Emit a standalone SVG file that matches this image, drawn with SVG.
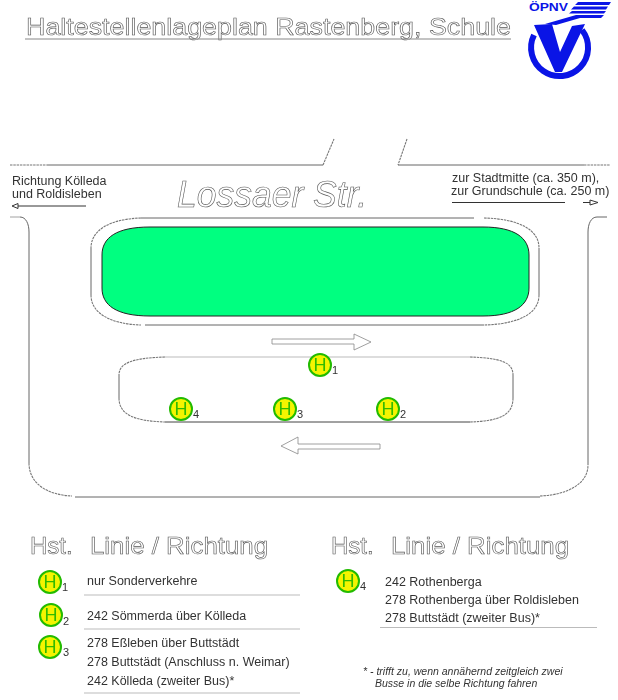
<svg xmlns="http://www.w3.org/2000/svg" width="618" height="700" viewBox="0 0 618 700">
<defs><filter id="soft" x="-5%" y="-20%" width="110%" height="140%"><feGaussianBlur stdDeviation="0.25"/></filter></defs>
<style>
text{font-family:"Liberation Sans",Arial,sans-serif}
.g{filter:url(#soft)}
.o{fill:#fff;stroke:#555;stroke-width:.6}
.t{fill:#333;font-size:12.5px}
.r{fill:none;stroke:#666;stroke-width:1}
.d{fill:none;stroke:#777;stroke-width:1.100;stroke-dasharray:2.500 .8}
.c{fill:#f4f400;stroke:#22bb00;stroke-width:2}
.h{fill:#33bb00;font-size:18px;text-anchor:middle}
.s{fill:#333;font-size:11px}
.l{stroke:#bbb;stroke-width:1}
</style>
<rect width="618" height="700" fill="#fff"/>
<g id="title" class="g">
<text x="26" y="35" class="o" font-size="24.500" textLength="485" lengthAdjust="spacingAndGlyphs">Haltestellenlageplan Rastenberg, Schule</text>
<line x1="25" y1="39" x2="511" y2="39" stroke="#888" stroke-width="1.200"/>
</g>
<g id="logo" fill="#0a14e6">
<path d="M534 35A28.500 28.500 0 1 0 582 30" fill="none" stroke="#0a14e6" stroke-width="6"/>
<path d="M534 25L552 24L560 52L572 26L585 24L562 72H555Z"/>
<path d="M545 24L576 15H604L601 18H580L556 25Z"/>
<path d="M578 2H611L609 5H575ZM574 6.500H608L606 9.500H571ZM572 11H606L604 13.500H569Z"/>
<text x="529" y="11" font-size="11" font-weight="700" fill="#0a14e6" textLength="39" lengthAdjust="spacingAndGlyphs">ÖPNV</text>
</g>
<g id="roads">
<path class="r" d="M47 165H323"/><path class="d" d="M10 165H47M323 165L334 139M407 139L398 165M584 165H610" />
<path class="r" d="M398 165H584"/>
<path class="r" stroke-opacity=".6" d="M10 217H20"/>
<path class="r" d="M20 217C26 217 29 224 29 232V463"/>
<path class="d" d="M29 463C29 484 48 495 72 496"/>
<path class="r" d="M75 497H540"/>
<path class="d" d="M540 496C567 495 588 484 588 465"/>
<path class="r" d="M588 465V232C588 224 591 217 597 217H607"/>
<path class="r" d="M141 218H474M91 248V295M539 248V295M145 325H484"/>
<path class="d" d="M141 218C110 219 91 230 91 248M91 295C91 313 110 324 141 325M484 218C520 219 539 230 539 248M539 295C539 313 520 324 484 325"/>
<path class="r" style="stroke:#bbb" d="M165 357H470"/>
<path class="r" d="M119 375V398M513 375V398"/>
<path class="r" style="stroke:#444" d="M165 422H470"/>
<path class="d" d="M165 357C135 358 119 362 119 375M119 398C119 415 135 421 165 422M470 357C500 358 513 362 513 375M513 398C513 415 500 421 470 422"/>
</g>
<g id="green"><path d="M150 227H483C515 227 529 238 529 255V288C529 305 515 316 483 316H150C116 316 102 305 102 288V255C102 238 116 227 150 227Z" fill="#00ff80" stroke="#222" stroke-width="1"/></g>
<g id="arrows" fill="#fff" stroke="#888" stroke-width=".8">
<path d="M272 339H354V334L371 342L354 350V344H272Z"/>
<path d="M281 446L298 437V444H380V449H298V454Z"/>
</g>
<g id="labels" class="g">
<text x="12" y="185" class="t">Richtung Kölleda</text>
<text x="12" y="198" class="t">und Roldisleben</text>
<path d="M18 206H86M12 206L18 203.500V208.500Z" stroke="#333" fill="#fff" stroke-width="1"/>
<text x="177" y="207" class="o" font-size="37" font-style="italic" textLength="190" lengthAdjust="spacingAndGlyphs">Lossaer Str.</text>
<text x="452" y="182" class="t">zur Stadtmitte (ca. 350 m),</text>
<text x="451" y="194.500" class="t">zur Grundschule (ca. 250 m)</text>
<path d="M452 202.500H565M583 202.500H590M590 200L598 202.500L590 205Z" stroke="#333" fill="#fff" stroke-width="1"/>
</g>
<g id="stop-1" class="g"><circle class="c" cx="320" cy="365" r="11"/><text x="320" y="371" class="h">H</text><text x="332" y="374" class="s">1</text></g>
<g id="stop-4" class="g"><circle class="c" cx="181" cy="409" r="11"/><text x="181" y="415" class="h">H</text><text x="193" y="418" class="s">4</text></g>
<g id="stop-3" class="g"><circle class="c" cx="285" cy="409" r="11"/><text x="285" y="415" class="h">H</text><text x="297" y="418" class="s">3</text></g>
<g id="stop-2" class="g"><circle class="c" cx="388" cy="409" r="11"/><text x="388" y="415" class="h">H</text><text x="400" y="418" class="s">2</text></g>
<g id="legend-left" class="g">
<text x="30" y="554" class="o" font-size="24">Hst.</text>
<text x="90" y="554" class="o" font-size="24" textLength="178" lengthAdjust="spacingAndGlyphs">Linie / Richtung</text>
<g><circle class="c" cx="50" cy="582" r="11"/><text x="50" y="588" class="h">H</text><text x="62" y="591" class="s">1</text></g>
<g><circle class="c" cx="51" cy="615" r="11"/><text x="51" y="621" class="h">H</text><text x="63" y="625" class="s">2</text></g>
<g><circle class="c" cx="50" cy="647" r="11"/><text x="50" y="653" class="h">H</text><text x="63" y="656" class="s">3</text></g>
<text x="87" y="585" class="t">nur Sonderverkehre</text>
<line class="l" x1="84" y1="595" x2="300" y2="595"/>
<text x="87" y="620" class="t">242 Sömmerda über Kölleda</text>
<line class="l" x1="84" y1="629" x2="300" y2="629"/>
<text x="87" y="647" class="t">278 Eßleben über Buttstädt</text>
<text x="87" y="666" class="t">278 Buttstädt (Anschluss n. Weimar)</text>
<text x="87" y="685" class="t">242 Kölleda (zweiter Bus)*</text>
<line class="l" x1="84" y1="693" x2="300" y2="693"/>
</g>
<g id="legend-right" class="g">
<text x="331" y="554" class="o" font-size="24">Hst.</text>
<text x="391" y="554" class="o" font-size="24" textLength="178" lengthAdjust="spacingAndGlyphs">Linie / Richtung</text>
<g><circle class="c" cx="348" cy="581" r="11"/><text x="348" y="587" class="h">H</text><text x="360" y="590" class="s">4</text></g>
<text x="385" y="586" class="t">242 Rothenberga</text>
<text x="385" y="604" class="t">278 Rothenberga über Roldisleben</text>
<text x="385" y="622" class="t">278 Buttstädt (zweiter Bus)*</text>
<line class="l" x1="380" y1="627.500" x2="597" y2="627.500"/>
<text x="363" y="675" fill="#333" font-size="10.500" font-style="italic">* - trifft zu, wenn annähernd zeitgleich zwei</text>
<text x="375" y="687" fill="#333" font-size="10.500" font-style="italic">Busse in die selbe Richtung fahren</text>
</g>
</svg>
